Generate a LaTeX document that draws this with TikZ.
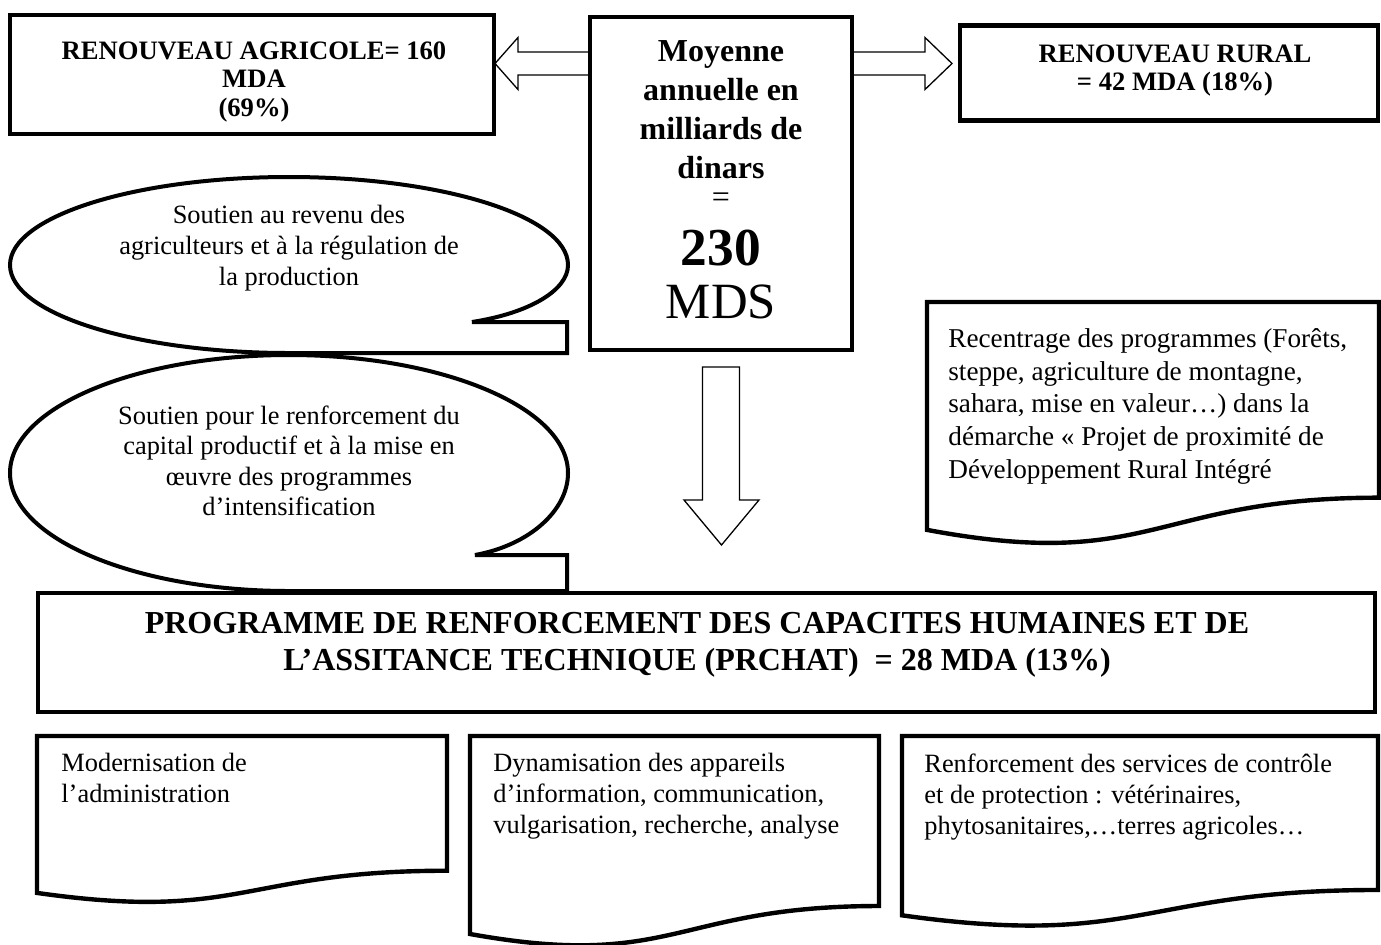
\documentclass[tikz,border=0pt]{standalone}
\usepackage{fontspec}
\setmainfont{Liberation Serif}[BoldFont={Liberation Serif Bold}, ItalicFont={Liberation Serif Italic}, BoldItalicFont={Liberation Serif Bold Italic}]
\usetikzlibrary{calc}
\tikzset{
  frame/.style={draw, line width=2.2pt, outer sep=0pt, inner sep=0pt, anchor=north west},
  docline/.style={draw, line width=2.2pt, line join=miter},
  blockarrow/.style={draw, line width=0.65pt, line join=miter},
  callout/.style={draw, line width=2pt, fill=white, line join=miter},
  toptext/.style={font=\bfseries\fontsize{13.3}{14.3}\selectfont, align=center, inner sep=0pt},
  midtext/.style={font=\bfseries\fontsize{16}{19.5}\selectfont, align=center, inner sep=0pt},
  bodyc/.style={font=\fontsize{13.2}{15.4}\selectfont, align=center, inner sep=0pt, anchor=north},
  bodyl/.style={font=\fontsize{13.2}{15.5}\selectfont, align=left, inner sep=0pt, anchor=north west},
  titletext/.style={font=\bfseries\fontsize{16}{18.5}\selectfont, align=center, inner sep=0pt, anchor=north}
}
\newcommand{\docshape}[4]{%
  \draw[docline] (#1,#2) -- (#3,#2) -- (#3,{#2+0.8019*#4})
    .. controls ({(#1+#3)/2},{#2+0.8019*#4}) and ({(#1+#3)/2},{#2+1.1075*#4}) ..
    (#1,{#2+0.9339*#4}) -- cycle;}
\begin{document}
\begin{tikzpicture}[x=0.5pt,y=-0.5pt]
\useasboundingbox (0,0) rectangle (1381,944);

% top boxes
\node[frame, minimum width=242pt, minimum height=59.5pt] (agri) at (10,15) {};
\node[frame, minimum width=131pt, minimum height=166.5pt] (mid) at (590,17) {};
\node[frame, minimum width=209pt, minimum height=47.5pt] (rural) at (960,25.5) {};

\node[toptext, anchor=north] (agriT) at (254,41) {RENOUVEAU AGRICOLE= 160\\MDA\\(69\%)};
\node[toptext, anchor=north] (ruralT) at (1175,44) {RENOUVEAU RURAL\\= 42 MDA (18\%)};

\node[midtext, anchor=north] (midT) at (721,40) {Moyenne\\annuelle en\\milliards de\\dinars};
\node[font=\fontsize{16}{19}\selectfont, inner sep=0pt] (eqT) at (721,200) {=};
\node[font=\bfseries\fontsize{26.7}{30}\selectfont, inner sep=0pt, anchor=base] (numT) at (721,265) {230};
\node[font=\fontsize{25.4}{30}\selectfont, inner sep=0pt, anchor=base] (mdsT) at (721,318) {MDS};

% block arrows
\coordinate (Ls) at ($(mid.north west)+(0,46.5)$);
\coordinate (Lt) at ($(agri.east |- Ls)+(1,0)$);
\draw[blockarrow] ($(Ls)+(0,-11.5)$) -- ($(Lt)+(23,-11.5)$) -- ($(Lt)+(23,-26)$) -- (Lt)
  -- ($(Lt)+(23,26)$) -- ($(Lt)+(23,11.5)$) -- ($(Ls)+(0,11.5)$);

\coordinate (Rs) at ($(mid.north east)+(0,46.5)$);
\coordinate (Rt) at ($(rural.west |- Rs)+(-8,0)$);
\draw[blockarrow] ($(Rs)+(0,-11.5)$) -- ($(Rt)+(-27,-11.5)$) -- ($(Rt)+(-27,-26)$) -- (Rt)
  -- ($(Rt)+(-27,26)$) -- ($(Rt)+(-27,11.5)$) -- ($(Rs)+(0,11.5)$);

\coordinate (Ds) at ($(mid.south)+(0,17)$);
\draw[blockarrow] ($(Ds)+(-18.5,0)$) -- ($(Ds)+(-18.5,133)$) -- ($(Ds)+(-37,133)$) -- ($(Ds)+(0.5,178)$)
  -- ($(Ds)+(38,133)$) -- ($(Ds)+(18.5,133)$) -- ($(Ds)+(18.5,0)$) -- cycle;

% callouts
\draw[callout] (475,555) -- (567,555) -- (567,591) -- (289,591)
  arc[start angle=90, end angle=360, x radius=279, y radius=118]
  .. controls (568,510) and (530,545) .. (475,555) -- cycle;
\draw[callout] (472,322) -- (567,322) -- (567,353) -- (289,353)
  arc[start angle=90, end angle=360, x radius=279, y radius=88]
  .. controls (568,290) and (530,313) .. (472,322) -- cycle;

\node[bodyc, font=\fontsize{13.2}{15.5}\selectfont] (c1T) at (289,205) {Soutien au revenu des\\agriculteurs et à la régulation de\\la production};
\node[bodyc, font=\fontsize{13.2}{15.3}\selectfont] (c2T) at (289,405) {Soutien pour le renforcement du\\capital productif et à la mise en\\œuvre des programmes\\d’intensification};

% right document
\docshape{927}{302}{1379}{244}
\node[bodyl, font=\fontsize{13.6}{16.4}\selectfont] (recT) at (948,328) {Recentrage des programmes (Forêts,\\steppe, agriculture de montagne,\\sahara, mise en valeur…) dans la\\démarche « Projet de proximité de\\Développement Rural Intégré};

% PRCHAT
\node[frame, minimum width=668.5pt, minimum height=59.5pt] (prchat) at (38,593) {};
\node[titletext] (prT) at (697,612) {PROGRAMME DE RENFORCEMENT DES CAPACITES HUMAINES ET DE\\L’ASSITANCE TECHNIQUE (PRCHAT)\ \ = 28 MDA (13\%)};

% bottom documents
\docshape{37}{736}{447}{168}
\docshape{470}{736}{879}{212}
\docshape{902}{736}{1378}{192}
\node[bodyl] (aT) at (61,753) {Modernisation de\\l’administration};
\node[bodyl] (bT) at (493,753) {Dynamisation des appareils\\d’information, communication,\\vulgarisation, recherche, analyse};
\node[bodyl] (cT) at (924,753) {Renforcement des services de contrôle\\et de protection : vétérinaires,\\phytosanitaires,…terres agricoles…};
\end{tikzpicture}
\end{document}
